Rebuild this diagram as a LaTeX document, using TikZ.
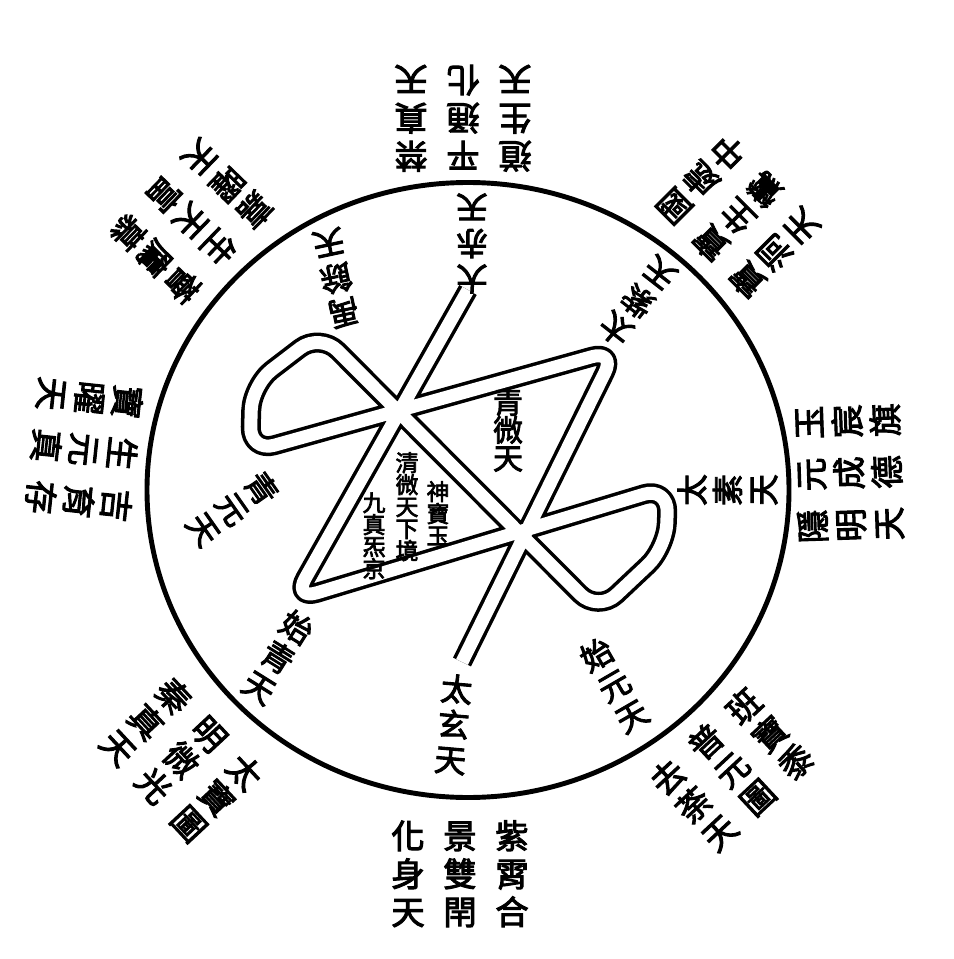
\documentclass[tikz,border=0pt]{standalone}
\usepackage{fontspec}
\newfontfamily\cjk[FakeBold=3]{Noto Sans CJK TC}

\begin{document}
\begin{tikzpicture}[x=0.02cm, y=-0.02cm,
    rim/.style={line width=2.8pt},
    road/.style={line width=2pt, double distance=0.26cm,
                 rounded corners=0.5cm, line join=round},
    ring/.style={font=\cjk\fontsize{19}{19}\selectfont, inner sep=-1.5pt,
                 text height=0.84em, text depth=0.1em},
    spoke/.style={font=\cjk\fontsize{18}{18}\selectfont, inner sep=-2pt,
                  text height=0.82em, text depth=0.08em},
    core/.style={font=\cjk\fontsize{13}{13}\selectfont, inner sep=-0.8pt,
                 text height=0.78em, text depth=0.06em},
    mid/.style={font=\cjk\fontsize{17}{17}\selectfont, inner sep=-1pt,
                text height=0.8em, text depth=0.08em}]

  \useasboundingbox (0,0) rectangle (953,959);

  % three columns of three, tops turned to the centre
  \def\ringtext#1#2#3#4{%
    \begin{scope}[shift={#2}, rotate=#3, transform shape]
      \foreach \col [count=\j] in {#4}
        \foreach \ch [count=\i] in \col
          \node[ring] (#1-\j-\i) at ({(2-\j)*1.04cm}, {(2-\i)*0.76cm}) {\ch};
    \end{scope}}
  % one column of three along a spoke
  \def\spoketext#1#2#3#4{%
    \begin{scope}[shift={#2}, rotate=#3, transform shape]
      \foreach \ch [count=\i] in {#4}
        \node[spoke] (#1-\i) at (0cm, {(2-\i)*0.71cm}) {\ch};
    \end{scope}}

  % --- outer ring ---
  \draw[rim] (468,490) ellipse [x radius=321, y radius=307.5];

  % --- the band ---
  \coordinate (tailN)  at (468,290);
  \coordinate (cornSW) at (293,600);
  \coordinate (cornE)  at (668,487);
  \coordinate (bulgeE) at (666,548);
  \coordinate (cornSE) at (598,612);
  \coordinate (cornNW) at (320,333);
  \coordinate (bulgeW) at (252,385);
  \coordinate (cornW)  at (250,452);
  \coordinate (cornNE) at (616,350);
  \coordinate (tailS)  at (462,662);

  \draw[road] (tailN) -- (cornSW) -- (cornE) -- (bulgeE) -- (cornSE)
    -- (cornNW) -- (bulgeW) -- (cornW) -- (cornNE) -- (tailS);

  % --- spoke labels ---
  \spoketext{dachi}{(472,238)}{180}{大,赤,天}
  \spoketext{yuyu}{(335,273)}{192}{禹,餘,天}
  \spoketext{taizi}{(641,297)}{142}{太,紫,天}
  \spoketext{taisu}{(733,490)}{90}{太,素,天}
  \spoketext{shiyuan}{(617,690)}{30}{始,元,天}
  \spoketext{taixuan}{(453,730)}{-5}{太,玄,天}
  \spoketext{shiqing}{(275,662)}{-32}{始,青,天}
  \spoketext{qingyuan}{(228,512)}{-55}{青,元,天}

  % --- inside the lobes ---
  \foreach \ch [count=\i] in {青,微,天}
    \node[mid] (qw-\i) at (508,{379+28*\i}) {\ch};
  \foreach \ch [count=\i] in {神,寶,玉}
    \node[core] (cr-\i) at (438,{472+22*\i}) {\ch};
  \foreach \ch [count=\i] in {清,微,天,下,境}
    \node[core] (cm-\i) at (407,{443+22*\i}) {\ch};
  \foreach \ch [count=\i] in {九,真,炁,京}
    \node[core] (cl-\i) at (374,{483+22*\i}) {\ch};

  % --- outer groups ---
  \ringtext{gN}{(463,112)}{180}{{禁,真,天},{平,通,化},{道,生,天}}
  \ringtext{gNE}{(742,212)}{135}{{國,處,中},{寶,生,鸞},{寶,洞,天}}
  \ringtext{gE}{(855,473)}{92}{{玉,宸,旗},{元,成,德},{隱,明,天}}
  \ringtext{gSE}{(736,774)}{43}{{班,寶,黍},{普,元,圖},{去,荼,天}}
  \ringtext{gS}{(460,880)}{0}{{紫,霄,合},{景,雙,閈},{化,身,天}}
  \ringtext{gSW}{(177,764)}{-47}{{太,寶,圖},{明,微,光},{秦,真,天}}
  \ringtext{gW}{(78,449)}{264}{{吉,育,存},{生,元,真},{寶,曜,天}}
  \ringtext{gNW}{(187,217)}{226}{{薈,鷹,慕},{生,天,富},{嘉,曜,天}}

\end{tikzpicture}
\end{document}
